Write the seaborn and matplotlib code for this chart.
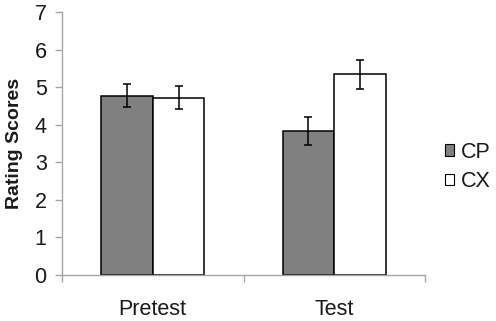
import matplotlib
matplotlib.use("Agg")
import matplotlib.pyplot as plt
import seaborn as sns
import pandas as pd
from matplotlib.patches import Patch

phases = ["Pretest", "Test"]
groups = ["CP", "CX"]
cp_means = [4.77, 3.83]
cx_means = [4.72, 5.34]
cp_errs = [0.31, 0.38]
cx_errs = [0.31, 0.39]
y_ticks = [0, 1, 2, 3, 4, 5, 6, 7]

df = pd.DataFrame({
    "phase": phases * 2,
    "group": ["CP"] * 2 + ["CX"] * 2,
    "score": cp_means + cx_means,
})
errs = {"CP": cp_errs, "CX": cx_errs}

sns.set_style("white")
plt.rcParams["font.family"] = ["Liberation Sans", "DejaVu Sans"]

fig = plt.figure(figsize=(4.96, 3.21), dpi=100)
ax = fig.add_axes([62 / 496, 1 - 275 / 321, (425 - 62) / 496, (275 - 12) / 321])

colors = {"CP": "#808080", "CX": "#ffffff"}
sns.barplot(data=df, x="phase", y="score", hue="group", hue_order=groups,
            order=phases, palette=colors, edgecolor="black", linewidth=1.1,
            width=0.57, gap=0, errorbar=None, ax=ax, legend=False)

for cont, g in zip(ax.containers, groups):
    xs = [b.get_x() + b.get_width() / 2 for b in cont]
    hs = [b.get_height() for b in cont]
    ax.errorbar(xs, hs, yerr=errs[g], fmt="none", ecolor="black",
                elinewidth=1.1, capsize=3, capthick=1.1, zorder=5)

ax.set_xlim(-0.5, 1.5)
ax.set_ylim(0, 7)
ax.set_yticks(y_ticks)
ax.set_xticks([0, 1])
ax.set_xticklabels(phases)
ax.set_xlabel("")
ax.set_ylabel("Rating Scores", fontsize=14, fontweight="bold", labelpad=8, color="#1a1a1a")

axis_col = "#a6a6a6"
for s in ["top", "right"]:
    ax.spines[s].set_visible(False)
for s in ["left", "bottom"]:
    ax.spines[s].set_color(axis_col)
    ax.spines[s].set_linewidth(1.0)

fs = 15.5
ax.tick_params(axis="y", which="major", direction="out", length=5, width=1.0,
               color=axis_col, labelsize=fs, labelcolor="#1a1a1a", left=True, pad=6)
ax.tick_params(axis="x", which="major", length=0, labelsize=fs, labelcolor="#1a1a1a", pad=17)
ax.set_xticks([-0.5, 0.5, 1.5], minor=True)
ax.tick_params(axis="x", which="minor", direction="out", length=5, width=1.0,
               color=axis_col, bottom=True)

handles = [Patch(facecolor=colors[g], edgecolor="black", linewidth=0.8) for g in groups]
fig.legend(handles, groups, loc="center left", bbox_to_anchor=(445 / 496, 1 - 167 / 321),
           frameon=False, fontsize=fs, handlelength=0.42, handleheight=0.42,
           handletextpad=0.3, labelspacing=0.4, borderpad=0, borderaxespad=0,
           labelcolor="#1a1a1a")

fig.savefig("out.png", dpi=100)
